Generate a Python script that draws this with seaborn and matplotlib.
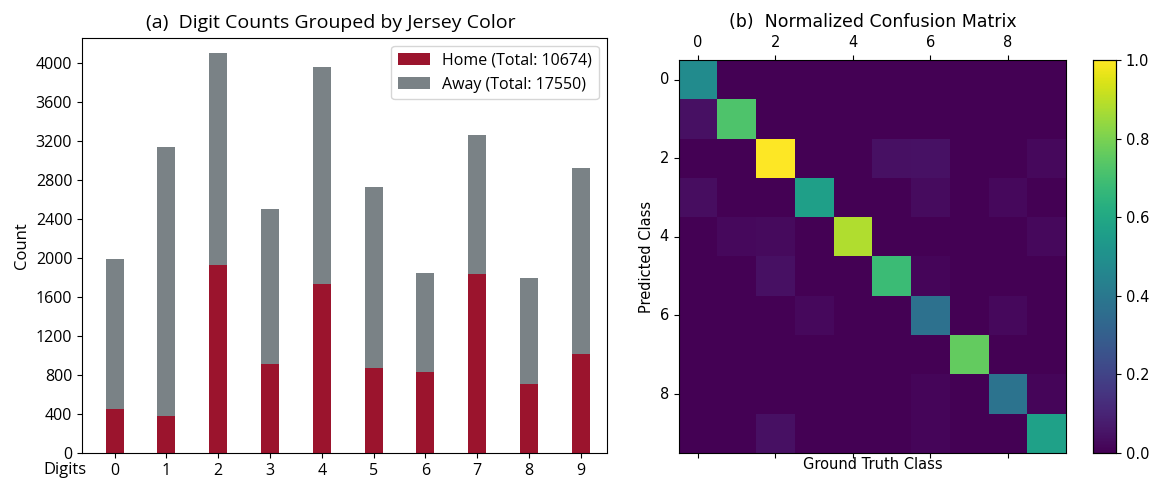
import matplotlib
matplotlib.use("Agg")
import matplotlib.pyplot as plt
import seaborn as sns
import numpy as np

# ------------------------------------------------------------------
# Data
# ------------------------------------------------------------------
digits = [str(d) for d in range(10)]
home_counts = [455, 375, 1930, 915, 1735, 875, 828, 1835, 710, 1016]
away_counts = [1531, 2764, 2166, 1588, 2224, 1848, 1021, 1425, 1083, 1900]
home_total = 10674
away_total = 17550

class_ticks = [0, 2, 4, 6, 8]
diag_values = [0.48, 0.72, 1.0, 0.56, 0.88, 0.68, 0.37, 0.76, 0.38, 0.57]
# (row, col, value) for the faint off-diagonal cells
off_diag = [
    (1, 0, 0.04),
    (2, 5, 0.04), (2, 6, 0.045), (2, 9, 0.02),
    (3, 0, 0.035), (3, 6, 0.03), (3, 8, 0.02),
    (4, 1, 0.02), (4, 2, 0.025), (4, 9, 0.02),
    (5, 2, 0.04), (5, 6, 0.015),
    (6, 3, 0.02), (6, 8, 0.02),
    (8, 6, 0.015), (8, 9, 0.015),
    (9, 2, 0.04), (9, 6, 0.015),
]

cm = np.diag(diag_values)
for r, c, v in off_diag:
    cm[r, c] = v

totals = [h + a for h, a in zip(home_counts, away_counts)]

HOME_COLOR = "#9b142d"
AWAY_COLOR = "#7a8286"

plt.rcParams["font.family"] = ["DejaVu Sans"]

fig = plt.figure(figsize=(11.6, 4.83), dpi=100)

# ------------------------------------------------------------------
# (a) stacked bar chart
# ------------------------------------------------------------------
ax1 = fig.add_axes([0.0707, 0.062, 0.4523, 0.859])
sns.barplot(x=digits, y=totals, color=AWAY_COLOR, saturation=1, width=0.35,
            linewidth=0, edgecolor="none", ax=ax1,
            label=f"Away (Total: {away_total})")
sns.barplot(x=digits, y=home_counts, color=HOME_COLOR, saturation=1, width=0.35,
            linewidth=0, edgecolor="none", ax=ax1,
            label=f"Home (Total: {home_total})")
ax1.set_xlim(-0.63, 9.5)
ax1.set_ylim(0, 4250)
ax1.set_yticks(np.arange(0, 4001, 400))
ax1.tick_params(labelsize=11.5)
for lbl in ax1.get_xticklabels() + ax1.get_yticklabels():
    lbl.set_fontfamily("Open Sans")
ax1.set_ylabel("Count", fontsize=12, family="Open Sans")
ax1.set_xlabel("Digits", fontsize=12, family="Open Sans")
ax1.xaxis.set_label_coords(-0.032, -0.022)
ax1.set_title("(a)  Digit Counts Grouped by Jersey Color", fontsize=14,
              family="Open Sans", pad=7, x=0.475)
handles, labels = ax1.get_legend_handles_labels()
ax1.legend(handles[::-1], labels[::-1], loc="upper right",
           prop={"family": "Open Sans", "size": 11.5})

# ------------------------------------------------------------------
# (b) normalized confusion matrix
# ------------------------------------------------------------------
ax2 = fig.add_axes([0.585, 0.062, 0.334, 0.814])
cax = fig.add_axes([0.942, 0.062, 0.020, 0.814])
sns.heatmap(cm, cmap="viridis", vmin=0, vmax=1, ax=ax2, cbar_ax=cax,
            linewidths=0)
ax2.set_xticks(np.array(class_ticks) + 0.5)
ax2.set_xticklabels([str(t) for t in class_ticks], rotation=0)
ax2.set_yticks(np.array(class_ticks) + 0.5)
ax2.set_yticklabels([str(t) for t in class_ticks], rotation=0)
ax2.tick_params(top=True, labeltop=True, bottom=True, labelbottom=False,
                labelsize=10.5)
ax2.set_xlabel("Ground Truth Class", fontsize=10.5, labelpad=-1)
ax2.set_ylabel("Predicted Class", fontsize=10.5)
ax2.set_title("(b)  Normalized Confusion Matrix", fontsize=12.5, pad=24)
for spine in ax2.spines.values():
    spine.set_visible(True)
    spine.set_linewidth(0.8)
cax.set_yticks(np.arange(0, 1.01, 0.2))
cax.tick_params(labelsize=10.5)
for spine in cax.spines.values():
    spine.set_visible(True)
    spine.set_linewidth(0.8)

fig.savefig("out.png", dpi=100)
